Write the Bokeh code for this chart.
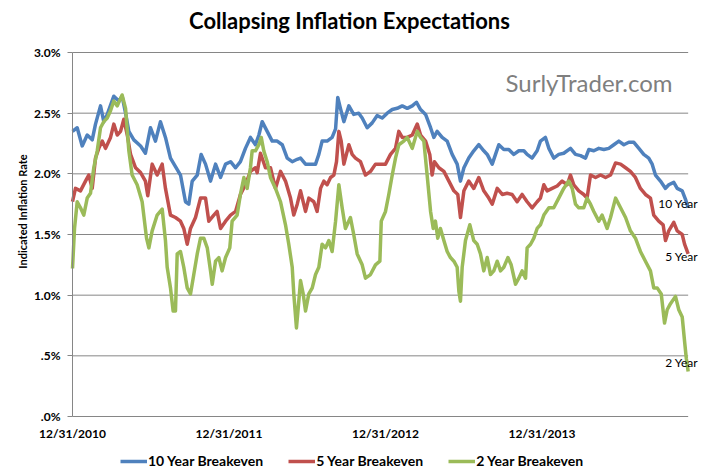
from bokeh.plotting import figure
from bokeh.models import Range1d, FixedTicker, Legend, LegendItem, ColumnDataSource, LinearAxis
from bokeh.core.properties import value
from bokeh.embed import file_html
from bokeh.resources import INLINE

# time axis: years after 12/31/2010
t10 = [0.000,0.030,0.062,0.094,0.126,0.147,0.179,0.200,0.222,0.264,0.296,0.317,0.339,0.360,0.392,0.435,0.466,0.498,0.530,0.562,0.594,0.626,0.658,
       0.690,0.722,0.743,0.765,0.797,0.822,0.850,0.882,0.914,0.946,0.978,1.010,1.042,1.073,1.105,1.137,1.169,1.191,1.212,1.244,1.276,1.308,1.340,1.372,1.404,1.436,
       1.457,1.489,1.521,1.553,1.574,1.595,1.627,1.659,1.681,1.695,1.712,1.734,1.766,1.797,1.829,1.851,1.883,1.915,1.947,1.979,2.011,2.043,2.075,2.107,2.139,2.171,2.198,
       2.224,2.256,2.288,2.309,2.330,2.362,2.394,2.426,2.458,2.479,2.501,2.532,2.564,2.596,2.628,2.650,2.682,2.703,2.724,2.756,2.788,2.820,2.852,2.884,2.905,2.937,2.969,
       2.990,3.022,3.044,3.075,3.107,3.139,3.182,3.214,3.246,3.278,3.299,3.331,3.363,3.395,3.427,3.459,3.491,3.523,3.555,3.587,3.619,3.650,3.682,3.704,3.725,3.757,3.789,3.810,3.842,3.864,3.896,3.917,3.934]
v10 = [2.35,2.38,2.23,2.32,2.28,2.41,2.56,2.43,2.49,2.64,2.60,2.64,2.50,2.35,2.28,2.23,2.17,2.38,2.27,2.43,2.30,2.13,2.06,
       1.99,1.77,1.75,1.94,1.99,2.16,2.08,1.94,2.08,1.97,2.08,2.10,2.05,2.10,2.21,2.30,2.24,2.32,2.43,2.35,2.27,2.27,2.24,2.13,2.10,2.12,
       2.13,2.08,2.08,2.08,2.16,2.27,2.27,2.30,2.37,2.63,2.54,2.43,2.56,2.49,2.50,2.46,2.38,2.42,2.48,2.46,2.50,2.53,2.54,2.56,2.54,2.56,2.59,
       2.53,2.49,2.38,2.30,2.35,2.30,2.27,2.16,2.08,1.94,2.05,2.13,2.19,2.24,2.19,2.16,2.08,2.16,2.24,2.20,2.20,2.16,2.19,2.19,2.16,2.13,2.19,
       2.27,2.30,2.21,2.13,2.16,2.17,2.21,2.16,2.15,2.13,2.20,2.19,2.21,2.20,2.21,2.24,2.27,2.24,2.26,2.26,2.21,2.16,2.13,2.08,1.99,1.94,1.88,1.91,1.93,1.88,1.86,1.79,1.72]

t5 = [0.000,0.019,0.051,0.083,0.104,0.126,0.147,0.168,0.190,0.211,0.243,0.264,0.286,0.307,0.328,0.350,0.371,0.403,0.435,0.466,0.481,0.509,0.541,0.573,0.594,0.626,0.658,
      0.690,0.711,0.733,0.754,0.786,0.818,0.850,0.871,0.903,0.924,0.946,0.978,1.010,1.042,1.073,1.105,1.137,1.169,1.180,1.201,1.233,1.265,1.297,1.329,1.361,1.393,1.414,1.436,
      1.457,1.489,1.510,1.542,1.563,1.585,1.606,1.627,1.649,1.670,1.687,1.702,1.717,1.734,1.766,1.787,1.808,1.840,1.872,1.904,1.936,1.968,2.000,2.032,2.064,2.085,2.107,2.139,2.171,2.203,
      2.224,2.256,2.283,2.298,2.313,2.341,2.373,2.405,2.437,2.462,2.479,2.501,2.532,2.564,2.596,2.628,2.660,2.682,2.714,2.746,2.777,2.809,2.841,2.873,2.905,2.937,2.969,
      2.990,3.012,3.033,3.065,3.097,3.129,3.161,3.182,3.203,3.235,3.267,3.288,3.310,3.342,3.374,3.406,3.438,3.470,3.502,3.534,3.565,3.597,3.629,3.661,3.693,3.714,3.746,3.774,3.789,3.810,3.842,3.864,3.896,3.911,3.934]
v5 = [1.77,1.88,1.86,1.94,1.99,1.88,2.13,2.21,2.27,2.21,2.30,2.41,2.32,2.35,2.45,2.32,2.16,2.05,2.01,1.94,1.82,2.08,1.99,2.08,1.88,1.66,1.64,
      1.61,1.55,1.42,1.55,1.64,1.80,1.80,1.61,1.66,1.69,1.55,1.61,1.66,1.69,1.83,1.91,2.02,2.05,2.01,2.17,2.05,2.05,1.88,2.02,1.94,1.80,1.66,1.75,
      1.86,1.69,1.80,1.77,1.69,1.88,1.94,1.91,1.97,1.99,2.10,2.35,2.27,2.08,2.24,2.16,2.13,2.10,1.99,2.02,2.08,2.08,2.08,2.16,2.21,2.35,2.30,2.30,2.32,2.41,
      2.32,2.27,2.16,1.99,2.10,2.05,2.02,1.94,1.86,1.83,1.64,1.86,1.94,1.88,1.97,1.86,1.80,1.75,1.88,1.83,1.84,1.83,1.77,1.83,1.77,1.72,1.77,
      1.80,1.91,1.86,1.88,1.90,1.94,1.91,1.99,1.91,1.86,1.83,1.80,1.99,1.97,1.99,1.97,1.99,2.09,2.08,2.05,2.02,1.97,1.88,1.83,1.80,1.66,1.61,1.58,1.45,1.53,1.60,1.53,1.50,1.42,1.34]

t2 = [0.000,0.013,0.030,0.051,0.072,0.094,0.115,0.136,0.158,0.179,0.200,0.222,0.243,0.264,0.286,0.317,0.339,0.360,0.381,0.413,0.445,0.473,0.488,0.509,0.541,0.573,0.594,0.605,0.626,0.643,0.658,0.669,
      0.690,0.711,0.733,0.754,0.775,0.797,0.818,0.839,0.861,0.882,0.893,0.914,0.935,0.956,0.978,1.005,1.020,1.052,1.073,1.095,1.116,1.137,1.148,1.169,1.191,1.206,1.222,1.244,1.265,1.297,1.329,1.361,1.382,1.404,1.414,1.431,1.446,
      1.457,1.474,1.489,1.510,1.532,1.553,1.574,1.595,1.617,1.638,1.659,1.681,1.702,1.723,1.744,1.776,1.797,1.819,1.851,1.872,1.904,1.936,1.964,1.973,2.000,2.021,2.043,2.064,2.085,2.117,2.139,2.171,2.203,
      2.224,2.245,2.266,2.288,2.305,2.319,2.334,2.351,2.373,2.394,2.415,2.437,2.458,2.469,2.479,2.490,2.511,2.539,2.564,2.586,2.607,2.628,2.650,2.671,2.692,2.714,2.735,2.756,2.782,2.803,2.831,2.852,2.873,2.895,2.905,2.927,2.948,2.969,
      2.990,3.012,3.044,3.075,3.107,3.139,3.171,3.193,3.214,3.235,3.267,3.288,3.310,3.331,3.363,3.384,3.416,3.438,3.470,3.502,3.534,3.565,3.597,3.629,3.661,3.693,3.714,3.736,3.762,3.783,3.800,3.821,3.853,3.874,3.896,3.911,3.922,3.934]
v2 = [1.22,1.55,1.77,1.72,1.66,1.80,1.84,2.05,2.19,2.38,2.43,2.46,2.52,2.60,2.56,2.65,2.54,2.19,1.99,1.91,1.77,1.47,1.39,1.53,1.66,1.71,1.45,1.23,1.06,0.87,0.87,1.34,
      1.36,1.23,1.06,1.01,1.17,1.34,1.47,1.47,1.39,1.20,1.09,1.28,1.31,1.20,1.31,1.39,1.61,1.66,1.83,1.97,1.88,2.05,2.19,2.19,2.24,2.30,2.19,2.10,1.97,1.88,1.77,1.58,1.42,1.23,1.01,0.73,0.95,
      1.12,1.01,0.87,1.01,1.06,1.17,1.23,1.42,1.39,1.45,1.36,1.61,1.91,1.72,1.55,1.64,1.50,1.34,1.25,1.14,1.17,1.25,1.28,1.61,1.69,1.83,1.99,2.13,2.24,2.27,2.30,2.21,2.35,
      2.30,2.27,1.99,1.69,1.55,1.61,1.47,1.55,1.45,1.36,1.31,1.28,1.23,1.03,0.95,1.23,1.45,1.58,1.45,1.42,1.34,1.20,1.31,1.17,1.20,1.28,1.20,1.23,1.31,1.25,1.09,1.14,1.20,1.14,1.39,1.42,1.47,1.55,
      1.58,1.66,1.72,1.72,1.80,1.88,1.94,1.88,1.75,1.72,1.72,1.80,1.75,1.69,1.61,1.66,1.55,1.64,1.80,1.72,1.64,1.53,1.47,1.36,1.28,1.20,1.06,1.06,1.01,0.77,0.88,0.93,0.99,0.88,0.82,0.62,0.48,0.37]

year_ticks = [0, 1, 2, 3]
year_labels = ["12/31/2010", "12/31/2011", "12/31/2012", "12/31/2013"]
rate_ticks = [0.0, 0.5, 1.0, 1.5, 2.0, 2.5, 3.0]
rate_labels = [".0%", ".5%", "1.0%", "1.5%", "2.0%", "2.5%", "3.0%"]
series_names = ["10 Year Breakeven", "5 Year Breakeven", "2 Year Breakeven"]
end_labels = ["10 Year", "5 Year", "2 Year"]
colors = ["#4F81BD", "#C0504D", "#9BBB59"]
chart_title = "Collapsing Inflation Expectations"

FONT = value("Lato")
GRID = "#868686"

# the frame covers the whole canvas; axes are pinned at the data origin
p = figure(width=700, height=474, output_backend="svg", toolbar_location=None, title=None,
           x_range=Range1d(-0.4601, 4.0128), y_range=Range1d(-0.478, 3.4286),
           min_border_left=0, min_border_right=0, min_border_top=0, min_border_bottom=0)
p.outline_line_color = None
p.background_fill_color = "white"
p.border_fill_color = "white"
p.xgrid.visible = False
p.ygrid.visible = False
p.xaxis.visible = False

# y axis (value scale), drawn at the first date
yax = p.yaxis[0]
yax.fixed_location = year_ticks[0]
yax.bounds = (rate_ticks[0], rate_ticks[-1])
yax.ticker = FixedTicker(ticks=rate_ticks)
yax.major_label_overrides = dict(zip(rate_ticks, rate_labels))
yax.axis_line_color = GRID
yax.major_tick_line_color = GRID
yax.major_tick_out = 5
yax.major_tick_in = 0
yax.minor_tick_line_color = None
yax.major_label_standoff = 7
yax.major_label_text_font = "Lato"
yax.major_label_text_font_size = "12px"
yax.major_label_text_font_style = "bold"
yax.major_label_text_color = "black"

# axis title on a bare axis, slightly above centre as in the original
title_axis = LinearAxis(axis_label="Indicated Inflation Rate", bounds=(0.38, 3.0),
                        fixed_location=year_ticks[0],
                        ticker=FixedTicker(ticks=[]), axis_line_color=None,
                        major_tick_line_color=None, minor_tick_line_color=None,
                        major_label_standoff=0, axis_label_standoff=44,
                        axis_label_text_font="Lato", axis_label_text_font_size="11px",
                        axis_label_text_font_style="bold", axis_label_text_color="black")
p.add_layout(title_axis, "left")

# chart title
p.text(x=[1.770], y=[3.264], text=[chart_title], text_font=FONT, text_font_size="22px",
       text_font_style="bold", text_color="black", text_align="center", text_baseline="middle")

# horizontal gridlines spanning the data period
p.segment(x0=[t10[0]] * len(rate_ticks), y0=rate_ticks, x1=[t10[-1]] * len(rate_ticks), y1=rate_ticks,
          line_color=GRID, line_width=1)

# date labels under the baseline
p.text(x=year_ticks, y=[rate_ticks[0]] * len(year_ticks), text=year_labels, y_offset=17,
       text_font=FONT, text_font_size="12px", text_font_style="bold", text_color="black",
       text_align="center", text_baseline="middle")

renderers = []
for t, v, c in [(t10, v10, colors[0]), (t5, v5, colors[1]), (t2, v2, colors[2])]:
    renderers.append(p.line(t, v, line_color=c, line_width=3.5, line_join="round"))

legend = Legend(items=[LegendItem(label=n, renderers=[r]) for n, r in zip(series_names, renderers)],
                orientation="horizontal", location=(120, 5),
                glyph_width=27, glyph_height=14, label_standoff=1, spacing=25,
                padding=0, margin=0, border_line_color=None, background_fill_alpha=0,
                label_text_font="Lato", label_text_font_size="14px", label_text_font_style="bold",
                label_text_color="black")
p.add_layout(legend, "center")

ends = ColumnDataSource(dict(x=[t10[-1], t5[-1], t2[-1]], y=[v10[-1], v5[-1], v2[-1]],
                             text=end_labels, yoff=[-4, 3, -9]))
p.text(x="x", y="y", text="text", source=ends, x_offset=10, y_offset="yoff",
       text_font=FONT, text_font_size="12px", text_color="black",
       text_align="right", text_baseline="middle")

p.text(x=[2.767], y=[2.75], text=["SurlyTrader.com"], text_font=FONT, text_font_size="24px",
       text_color="#7F7F7F", text_align="left", text_baseline="middle")

open("out.html", "w").write(file_html(p, INLINE))
